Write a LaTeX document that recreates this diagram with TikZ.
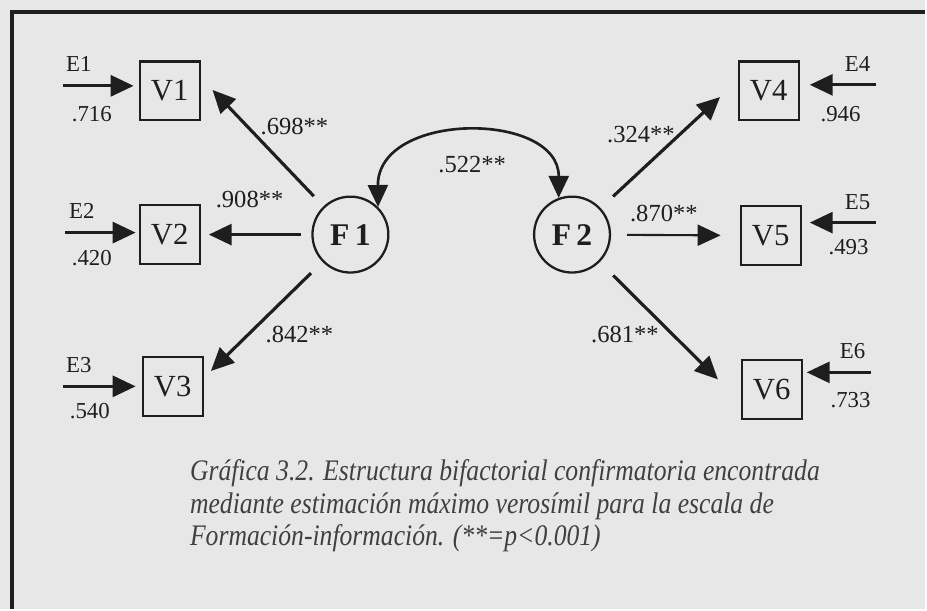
\documentclass[tikz,border=0pt]{standalone}
\usepackage{fontspec}
\setmainfont{Liberation Serif}
\newfontfamily\capfont[FakeStretch=0.86]{Liberation Serif}
\usetikzlibrary{arrows.meta}

\definecolor{paper}{RGB}{231,231,231}
\definecolor{ink}{RGB}{30,30,30}

\begin{document}
\begin{tikzpicture}[
    every node/.style={text=ink},
    obs/.style={draw=ink, line width=1.3pt, minimum width=1.2cm, minimum height=1.18cm, inner sep=0pt, font=\fontsize{17.5}{17.5}\selectfont},
    lat/.style={draw=ink, circle, line width=1.3pt, minimum size=1.52cm, inner sep=0pt, font=\fontsize{18}{18}\selectfont\bfseries},
    err/.style={font=\fontsize{13}{13}\selectfont},
    coef/.style={font=\fontsize{14}{14}\selectfont},
    arr/.style={draw=ink, line width=1.8pt, -{Triangle[length=0.46cm,width=0.42cm]}},
    bothways/.style={draw=ink, line width=1.5pt, {Triangle[length=0.44cm,width=0.4cm]}-{Triangle[length=0.44cm,width=0.4cm]}}
]

    \fill[paper] (0,0) rectangle (18.54,12.2);
    \draw[ink, line width=1.8pt] (0.24,0) -- (0.24,11.96) -- (18.54,11.96);

    \node[obs] (v1) at (3.40,10.38) {V1};
    \node[obs] (v2) at (3.40,7.50) {V2};
    \node[obs] (v3) at (3.46,4.46) {V3};
    \node[obs] (v4) at (15.40,10.38) {V4};
    \node[obs] (v5) at (15.44,7.48) {V5};
    \node[obs] (v6) at (15.46,4.40) {V6};

    \node[lat] (f1) at (7.02,7.50) {F\,1};
    \node[lat] (f2) at (11.46,7.50) {F\,2};

    \coordinate (e1) at (1.26,10.48);
    \coordinate (e2) at (1.30,7.54);
    \coordinate (e3) at (1.26,4.46);
    \coordinate (e4) at (17.54,10.50);
    \coordinate (e5) at (17.54,7.74);
    \coordinate (e6) at (17.44,4.74);

    \draw[arr, shorten >=0.1cm] (e1) -- (e1 -| v1.west);
    \draw[arr, shorten >=0.06cm] (e2) -- (e2 -| v2.west);
    \draw[arr, shorten >=0.12cm] (e3) -- (e3 -| v3.west);
    \draw[arr, shorten >=0.2cm] (e4) -- (e4 -| v4.east);
    \draw[arr, shorten >=0.16cm] (e5) -- (e5 -| v5.east);
    \draw[arr, shorten >=0.08cm] (e6) -- (e6 -| v6.east);

    \node[err] (le1) at (1.58,10.92) {E1};
    \node[err] (le2) at (1.64,7.98) {E2};
    \node[err] (le3) at (1.58,4.88) {E3};
    \node[err] (le4) at (17.18,10.92) {E4};
    \node[err] (le5) at (17.18,8.16) {E5};
    \node[err] (le6) at (17.08,5.16) {E6};

    \node[err] (r1) at (1.84,9.92) {.716};
    \node[err] (r2) at (1.84,7.02) {.420};
    \node[err] (r3) at (1.80,3.96) {.540};
    \node[err] (r4) at (16.84,9.92) {.946};
    \node[err] (r5) at (17.00,7.24) {.493};
    \node[err] (r6) at (17.04,4.18) {.733};

    \draw[arr, shorten <=0.28cm, shorten >=0.34cm] (f1) -- (v1.23);
    \draw[arr, shorten <=0.2cm, shorten >=0.16cm] (f1) -- (v2);
    \draw[arr, shorten <=0.32cm, shorten >=0.2cm] (f1) -- (v3.15);
    \draw[arr, shorten <=0.34cm, shorten >=0.48cm] (f2) -- (v4.162);
    \draw[arr, line width=1.2pt, shorten <=0.32cm, shorten >=0.38cm] (f2) -- (v5);
    \draw[arr, shorten <=0.38cm, shorten >=0.64cm] (f2) -- (v6.202);

    \draw[bothways] (f1.45) .. controls (7.56,9.98) and (11.2,9.98) .. (f2.110);

    \node[coef] (c1) at (5.90,9.66) {.698**};
    \node[coef] (c2) at (5.00,8.20) {.908**};
    \node[coef] (c3) at (6.00,5.50) {.842**};
    \node[coef] (c4) at (12.84,9.50) {.324**};
    \node[coef] (c5) at (13.30,7.92) {.870**};
    \node[coef] (c6) at (12.52,5.50) {.681**};
    \node[coef] (c12) at (9.46,8.90) {.522**};

    \node[anchor=north west, align=left, inner sep=0pt, text=ink!85, font=\capfont\fontsize{17}{18.5}\selectfont\itshape] (caption) at (3.8,3.0)
        {Gráfica 3.2. Estructura bifactorial confirmatoria encontrada\\
         mediante estimación máximo verosímil para la escala de\\
         Formación-información. (**=p<0.001)};

\end{tikzpicture}
\end{document}
